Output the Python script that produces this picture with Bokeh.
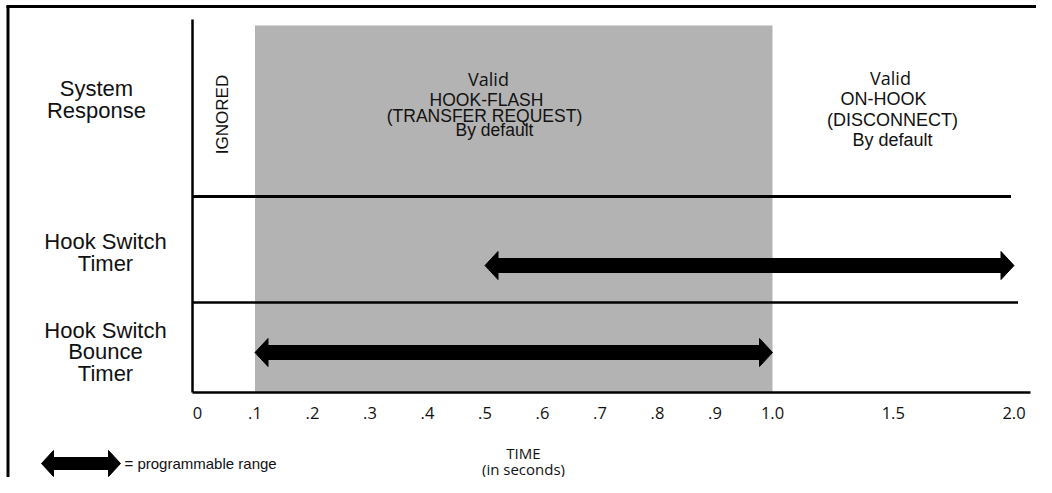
import math
from bokeh.plotting import figure
from bokeh.models import Range1d, LinearAxis, FixedTicker
from bokeh.core.properties import value
from bokeh.embed import file_html
from bokeh.resources import INLINE

# ---------------- data ----------------
tick_values = [0.0, 0.1, 0.2, 0.3, 0.4, 0.5, 0.6, 0.7, 0.8, 0.9, 1.0, 1.5, 2.0]
tick_labels = ["0", ".1", ".2", ".3", ".4", ".5", ".6", ".7", ".8", ".9", "1.0", "1.5", "2.0"]
row_labels = ["System\nResponse", "Hook Switch\nTimer", "Hook Switch\nBounce\nTimer"]
ignored_window = [0.0, 0.1]          # seconds
hook_flash_window = [0.1, 1.0]       # seconds (valid hook-flash, shaded)
timer_rows = [1, 2]                  # rows that carry a programmable range
timer_min = [0.5, 0.1]               # seconds
timer_max = [2.0, 1.0]               # seconds
hook_flash_text = ["Valid", "HOOK-FLASH", "(TRANSFER REQUEST)", "By default"]
on_hook_text = ["Valid", "ON-HOOK", "(DISCONNECT)", "By default"]
ignored_text = "IGNORED"
legend_text = "= programmable range"
time_title = ["TIME", "(in seconds)"]

# ---------------- layout / style ----------------
W, H = 1036, 477
PPU = 575.0          # pixels per displayed unit (0..1 s)
X_T0 = 197.0         # pixel x of t = 0
COMPRESS = 0.42      # the 1..2 s part of the time axis is drawn compressed

def tpos(t):
    return t if t <= 1.0 else 1.0 + (t - 1.0) * COMPRESS

def dx(px):
    return px / PPU

def xpix(X):
    return (X - X_T0) / PPU

row_bounds = [19, 196, 302, 392]           # pixel y of horizontal row borders
row_label_x = [96, 105, 105]
row_label_cy = [99, 252, 351]
row_line_h = 21.5
arrow_cy = {1: 265, 2: 352}
HEAD_L, HEAD_HH, SHAFT_HH = 13.0, 14.0, 7.0

TXT = "#111111"
HELV = value("Liberation Sans")
MYR = value("Open Sans")

p = figure(width=W, height=H, output_backend="svg", toolbar_location=None,
           x_axis_location=None, y_axis_location=None, min_border=0,
           x_range=Range1d(xpix(0), xpix(W)),
           y_range=Range1d(H, 0))
p.outline_line_color = None
p.background_fill_color = "white"
p.border_fill_color = "white"
p.grid.visible = False
for g in p.grid:
    g.grid_line_color = None

# frame border (top and left)
p.segment(x0=[xpix(6), xpix(7.5)], y0=[6, 5], x1=[xpix(W), xpix(7.5)], y1=[6, H],
          line_color="black", line_width=3)

# shaded valid hook-flash window
p.quad(left=[tpos(hook_flash_window[0])], right=[tpos(hook_flash_window[1])],
       top=[25], bottom=[row_bounds[-1]], fill_color="#b3b3b3", line_color=None)

# vertical left line of the diagram
x_left = tpos(ignored_window[0]) - dx(5)
p.segment(x0=[x_left], y0=[row_bounds[0]], x1=[x_left], y1=[row_bounds[-1]],
          line_color="black", line_width=2.5)

# row separators
x_end = tpos(timer_max[0])
p.segment(x0=[x_left, x_left], y0=[row_bounds[1], row_bounds[2]],
          x1=[x_end - dx(3), x_end + dx(4)], y1=[row_bounds[1], row_bounds[2]],
          line_color="black", line_width=[3, 2.5])

# time axis at the bottom of the diagram
axis = LinearAxis(fixed_location=row_bounds[-1],
                  ticker=FixedTicker(ticks=[tpos(t) for t in tick_values]),
                  major_label_overrides={tpos(t): lab for t, lab in zip(tick_values, tick_labels)},
                  bounds=(x_left, x_end + dx(16)))
axis.axis_line_width = 2.5
axis.axis_line_color = "black"
axis.major_tick_line_color = None
axis.minor_tick_line_color = None
axis.major_tick_out = 0
axis.major_tick_in = 0
axis.major_label_standoff = 14
axis.major_label_text_font = "Open Sans"
axis.major_label_text_font_size = "16.5px"
axis.major_label_text_color = TXT
p.add_layout(axis, "below")

# double-headed arrows for the programmable ranges
def arrow_poly(x0, x1, cy, head_l=HEAD_L, head_hh=HEAD_HH, shaft_hh=SHAFT_HH):
    hl = dx(head_l)
    xs = [x0, x0 + hl, x0 + hl, x1 - hl, x1 - hl, x1, x1 - hl, x1 - hl, x0 + hl, x0 + hl]
    ys = [cy, cy - head_hh, cy - shaft_hh, cy - shaft_hh, cy - head_hh, cy,
          cy + head_hh, cy + shaft_hh, cy + shaft_hh, cy + head_hh]
    return xs, ys

axs, ays = [], []
for r, a, b in zip(timer_rows, timer_min, timer_max):
    xs, ys = arrow_poly(tpos(a), tpos(b), arrow_cy[r])
    axs.append(xs); ays.append(ys)
# legend key arrow
lx, ly = arrow_poly(xpix(41), xpix(120), 463, head_l=12, head_hh=13, shaft_hh=6)
axs.append(lx); ays.append(ly)
p.patches(xs=axs, ys=ays, fill_color="black", line_color="black", line_width=1)

# row labels
rx, ry, rt = [], [], []
for i, lab in enumerate(row_labels):
    lines = lab.split("\n")
    n = len(lines)
    for j, ln in enumerate(lines):
        rx.append(xpix(row_label_x[i]))
        ry.append(row_label_cy[i] + (j - (n - 1) / 2) * row_line_h)
        rt.append(ln)
p.text(x=rx, y=ry, text=rt, text_font=HELV, text_font_size="22px", text_color=TXT,
       text_align="center", text_baseline="middle")

# hook-flash block
hf_x = xpix(488)
p.text(x=[hf_x], y=[78], text=[hook_flash_text[0]], text_font=MYR, text_font_size="18px",
       text_color=TXT, text_align="center", text_baseline="middle")
p.text(x=[hf_x - dx(2), hf_x - dx(4), hf_x + dx(6)], y=[99, 115, 129], text=hook_flash_text[1:],
       text_font=HELV, text_font_size="17.5px", text_color=TXT, text_align="center",
       text_baseline="middle")

# on-hook block
oh_x = xpix(890)
p.text(x=[oh_x], y=[77], text=[on_hook_text[0]], text_font=MYR, text_font_size="18px",
       text_color=TXT, text_align="center", text_baseline="middle")
p.text(x=[oh_x - dx(7), oh_x + dx(2), oh_x + dx(2)], y=[98, 119, 139], text=on_hook_text[1:],
       text_font=HELV, text_font_size="18px", text_color=TXT, text_align="center",
       text_baseline="middle")

# ignored (vertical)
p.text(x=[xpix(222)], y=[114], text=[ignored_text], angle=math.pi / 2, text_font=HELV,
       text_font_size="17px", text_color=TXT, text_align="center", text_baseline="middle")

# legend text
p.text(x=[xpix(124)], y=[463], text=[legend_text], text_font=HELV, text_font_size="15px",
       text_color=TXT, text_align="left", text_baseline="middle")

# time title
p.text(x=[xpix(523), xpix(523)], y=[452, 468], text=time_title, text_font=MYR,
       text_font_size="15px", text_color=TXT, text_align="center", text_baseline="middle")

open("out.html", "w").write(file_html(p, INLINE))
